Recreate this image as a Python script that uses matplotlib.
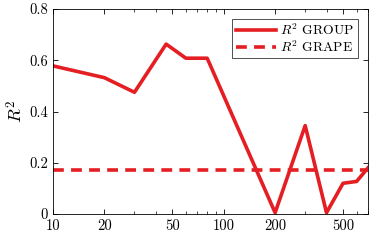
import numpy as np
import matplotlib
matplotlib.use("Agg")
import matplotlib.pyplot as plt
from matplotlib.ticker import FixedLocator, FixedFormatter, LogLocator, NullFormatter

# data
x_group = [10, 20, 30, 46, 60, 80, 200, 300, 400, 500, 600, 700]
r2_group = [0.578, 0.532, 0.475, 0.663, 0.608, 0.608, 0.005, 0.345, 0.005, 0.12, 0.127, 0.18]
r2_grape = 0.17
xticks = [10, 20, 50, 100, 200, 500]
xticklabels = ["10", "20", "50", "100", "200", "500"]
yticks = [0, 0.2, 0.4, 0.6, 0.8]
yticklabels = ["0", "0.2", "0.4", "0.6", "0.8"]

plt.rcParams["font.family"] = "serif"
plt.rcParams["font.serif"] = ["cmr10"]
plt.rcParams["mathtext.fontset"] = "cm"
plt.rcParams["axes.unicode_minus"] = False

red = "#e41e22"

fig = plt.figure(figsize=(3.74, 2.4), dpi=100)
ax = fig.add_axes([53/374, 1 - 214/240, (368-53)/374, (214-9)/240])

ax.plot(x_group, r2_group, color=red, lw=2.6, label=r"$R^2$ GROUP")
ax.axhline(r2_grape, color=red, lw=2.6, ls=(0, (3, 2)), label=r"$R^2$ GRAPE")

ax.set_xscale("log")
ax.set_xlim(10, 700)
ax.set_ylim(0, 0.8)
ax.xaxis.set_major_locator(FixedLocator(xticks))
ax.xaxis.set_major_formatter(FixedFormatter(xticklabels))
ax.xaxis.set_minor_locator(LogLocator(base=10, subs=np.arange(2, 10)))
ax.xaxis.set_minor_formatter(NullFormatter())
ax.set_yticks(yticks)
ax.set_yticklabels(yticklabels)
ax.tick_params(which="both", direction="in", top=True, right=True, labelsize=10.5)
ax.tick_params(which="major", length=3.5, width=0.6)
ax.tick_params(which="minor", length=2, width=0.5)
for s in ax.spines.values():
    s.set_linewidth(0.6)

ax.set_ylabel(r"$R^2$", fontsize=13, labelpad=3)

leg = ax.legend(loc="upper right", fontsize=9.8, fancybox=False, edgecolor="black",
                handlelength=3.0, borderpad=0.25, labelspacing=0.1, handletextpad=0.3,
                borderaxespad=0.75)
leg.get_frame().set_linewidth(0.6)

fig.savefig("out.png", dpi=100)
